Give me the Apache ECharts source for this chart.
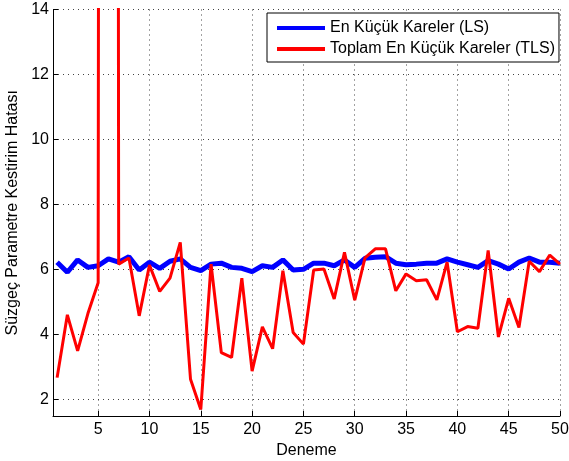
<!DOCTYPE html>
<html>
<head>
<meta charset="utf-8">
<script src="https://cdn.jsdelivr.net/npm/echarts@6/dist/echarts.min.js"></script>
<style>
html,body{margin:0;padding:0;background:#fff;}
#c{width:569px;height:461px;}
</style>
</head>
<body>
<div id="c"></div>
<script>
var trials = [];
for (var i = 1; i <= 50; i++) trials.push(i);

var seriesNames = ['En Küçük Kareler (LS)', 'Toplam En Küçük Kareler (TLS)'];
var xTitle = 'Deneme';
var yTitle = 'Süzgeç Parametre Kestirim Hatası';

var lsValues = [
  6.23, 5.92, 6.30, 6.07, 6.12, 6.33, 6.23, 6.40, 5.99, 6.23,
  6.04, 6.26, 6.33, 6.07, 5.97, 6.17, 6.20, 6.07, 6.04, 5.94,
  6.12, 6.07, 6.30, 5.99, 6.01, 6.20, 6.20, 6.12, 6.30, 6.07,
  6.35, 6.38, 6.40, 6.20, 6.15, 6.17, 6.20, 6.20, 6.33, 6.23,
  6.15, 6.07, 6.28, 6.17, 6.02, 6.23, 6.36, 6.23, 6.23, 6.20
];

var tlsValues = [
  2.68, 4.61, 3.50, 4.65, 5.60, 300, 6.17, 6.36, 4.58, 6.14,
  5.33, 5.74, 6.84, 2.63, 1.70, 6.17, 3.45, 3.30, 5.74, 2.88,
  4.24, 3.57, 5.97, 4.07, 3.71, 5.99, 6.02, 5.10, 6.53, 5.06,
  6.36, 6.64, 6.64, 5.35, 5.87, 5.66, 5.69, 5.07, 6.23, 4.09,
  4.25, 4.20, 6.59, 3.93, 5.12, 4.22, 6.26, 5.94, 6.45, 6.17
];

function pairs(xs, ys) {
  return xs.map(function (x, k) { return [x, ys[k]]; });
}

var font = "'Liberation Sans', Arial, Helvetica, sans-serif";
var gridLine = { show: true, lineStyle: { color: '#444', width: 1, type: [1, 4] } };

var chart = echarts.init(document.getElementById('c'), null, { renderer: 'canvas' });
chart.setOption({
  animation: false,
  backgroundColor: '#fff',
  textStyle: { fontFamily: font, color: '#000' },
  grid: { left: 53, right: 9, top: 9.5, bottom: 45, containLabel: false, outerBoundsMode: 'none' },
  legend: {
    orient: 'vertical',
    left: 267, top: 13,
    padding: [6, 4, 4, 10],
    itemGap: 3,
    itemWidth: 48, itemHeight: 4,
    icon: 'rect',
    borderColor: '#000', borderWidth: 1,
    backgroundColor: '#fff',
    textStyle: { fontFamily: font, fontSize: 16, color: '#000', lineHeight: 18 },
    data: seriesNames
  },
  xAxis: {
    type: 'value', min: 0.6, max: 50, splitNumber: 10,
    name: xTitle, nameLocation: 'middle', nameGap: 24,
    nameTextStyle: { fontFamily: font, fontSize: 16, color: '#000' },
    axisLine: { show: true, onZero: false, lineStyle: { color: '#000', width: 1 } },
    axisTick: { show: true, inside: true, length: 5, lineStyle: { color: '#000' } },
    axisLabel: { showMinLabel: false, margin: 6, fontFamily: font, fontSize: 16, color: '#000' },
    splitLine: gridLine
  },
  yAxis: {
    type: 'value', min: 1.5, max: 14, splitNumber: 6,
    name: yTitle, nameLocation: 'middle', nameGap: 32, nameRotate: 90,
    nameTextStyle: { fontFamily: font, fontSize: 16, color: '#000' },
    axisLine: { show: true, onZero: false, lineStyle: { color: '#000', width: 1 } },
    axisTick: { show: true, inside: true, length: 5, lineStyle: { color: '#000' } },
    axisLabel: { showMinLabel: false, margin: 4, fontFamily: font, fontSize: 16, color: '#000' },
    splitLine: gridLine
  },
  series: [
    {
      name: seriesNames[0], type: 'line', data: pairs(trials, lsValues),
      showSymbol: false, symbol: 'none', clip: true,
      itemStyle: { color: '#0000ff' },
      lineStyle: { color: '#0000ff', width: 5 }
    },
    {
      name: seriesNames[1], type: 'line', data: pairs(trials, tlsValues),
      showSymbol: false, symbol: 'none', clip: true,
      itemStyle: { color: '#ff0000' },
      lineStyle: { color: '#ff0000', width: 3 }
    }
  ]
});
</script>
</body>
</html>
